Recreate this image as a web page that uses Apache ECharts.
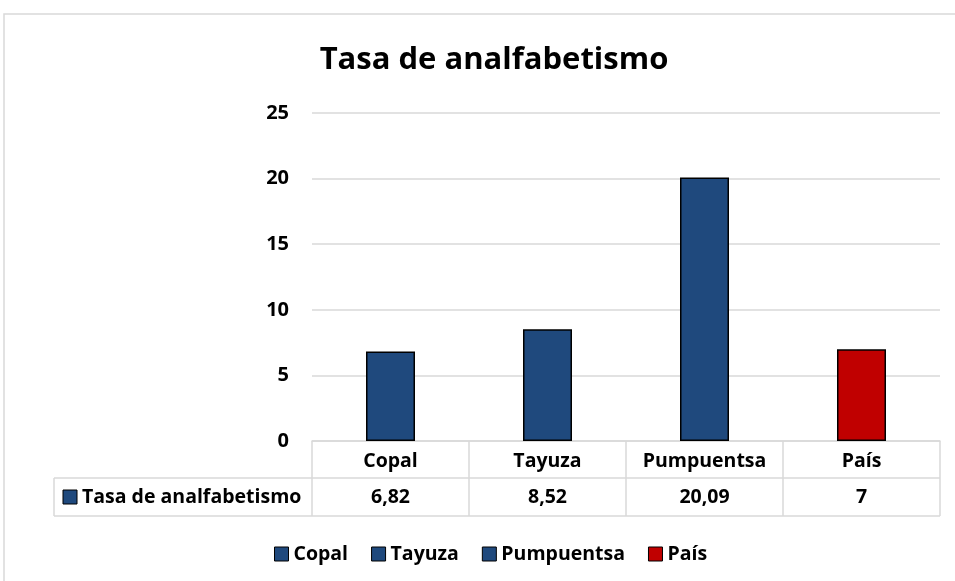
<!DOCTYPE html>
<html>
<head>
<meta charset="utf-8">
<script src="https://cdn.jsdelivr.net/npm/echarts@6/dist/echarts.min.js"></script>
<style>
  html, body { margin: 0; padding: 0; background: #fff; }
  #chart { width: 955px; height: 581px; }
</style>
</head>
<body>
<div id="chart"></div>
<script>
  var titleText = 'Tasa de analfabetismo'
  var categories = ['Copal', 'Tayuza', 'Pumpuentsa', 'País']
  var values = [6.82, 8.52, 20.09, 7]
  var valueLabels = ['6,82', '8,52', '20,09', '7']
  var barColors = ['#1F497D', '#1F497D', '#1F497D', '#C00000']
  var yTicks = [0, 5, 10, 15, 20, 25]

  var font = "'Open Sans', 'Noto Sans', sans-serif"
  var lineColor = '#d9d9d9'
  var fs = 19.5

  // plot box (grid) in pixels
  var gridLeft = 312, gridRight = 15, gridTop = 113, gridBottom = 140
  var W = 955, H = 581

  var chart = echarts.init(document.getElementById('chart'))

  // one series per category so the legend gets one entry each
  var series = categories.map(function (name, i) {
    return {
      name: name,
      type: 'bar',
      stack: 'all',
      barWidth: 49,
      data: values.map(function (v, j) { return j === i ? v : '-' }),
      itemStyle: {
        color: barColors[i],
        borderColor: '#000',
        borderWidth: 1.5
      }
    }
  })

  // table lines + row header
  var tblRight = W - gridRight
  var tblTop = H - gridBottom
  var tblMid = tblTop + 37
  var tblBot = tblTop + 75
  var headLeft = 54

  chart.setOption({
    backgroundColor: '#fff',
    animation: false,
    title: {
      text: titleText,
      left: 489,
      textAlign: 'center',
      top: 40,
      textStyle: { fontFamily: font, fontWeight: 'bold', fontSize: 31, color: '#000' }
    },
    legend: {
      data: categories,
      top: 544,
      left: 274,
      padding: 0,
      icon: 'rect',
      itemWidth: 14,
      itemHeight: 14,
      itemGap: 23,
      textStyle: { fontFamily: font, fontWeight: 'bold', fontSize: fs, color: '#000', padding: [0, 0, 0, 0] },
      itemStyle: { borderColor: '#000', borderWidth: 1 }
    },
    grid: { left: gridLeft, right: gridRight, top: gridTop, bottom: gridBottom },
    xAxis: [{
      type: 'category',
      data: categories,
      axisLine: { lineStyle: { color: lineColor, width: 1.5 } },
      axisTick: { show: true, interval: 0, length: 75, lineStyle: { color: lineColor, width: 1.5 } },
      axisLabel: { interval: 0, margin: 10, fontFamily: font, fontWeight: 'bold', fontSize: fs, color: '#000' }
    }, {
      type: 'category',
      data: valueLabels,
      position: 'bottom',
      axisLine: { show: false },
      axisTick: { show: false },
      axisLabel: { interval: 0, margin: 46, fontFamily: font, fontWeight: 'bold', fontSize: fs, color: '#000' }
    }],
    yAxis: {
      type: 'value',
      min: yTicks[0],
      max: yTicks[yTicks.length - 1],
      interval: 5,
      axisLine: { show: false },
      axisTick: { show: false },
      axisLabel: { margin: 23, fontFamily: font, fontWeight: 'bold', fontSize: 20, color: '#000' },
      splitLine: { lineStyle: { color: lineColor, width: 1.5 } }
    },
    graphic: [
      { type: 'rect', silent: true, shape: { x: 4, y: 14, width: 980, height: 620 }, style: { fill: 'none', stroke: lineColor, lineWidth: 1.5 } },
      { type: 'line', shape: { x1: headLeft, y1: tblMid, x2: tblRight, y2: tblMid }, style: { stroke: lineColor, lineWidth: 1.5 } },
      { type: 'line', shape: { x1: headLeft, y1: tblBot, x2: tblRight, y2: tblBot }, style: { stroke: lineColor, lineWidth: 1.5 } },
      { type: 'line', shape: { x1: headLeft, y1: tblMid, x2: headLeft, y2: tblBot }, style: { stroke: lineColor, lineWidth: 1.5 } },
      { type: 'rect', shape: { x: headLeft + 9, y: (tblMid + tblBot) / 2 - 7, width: 14, height: 14 }, style: { fill: barColors[0], stroke: '#000', lineWidth: 1 } },
      { type: 'text', x: headLeft + 28, y: (tblMid + tblBot) / 2, style: { text: titleText, fontFamily: font, fontWeight: 'bold', fontSize: fs, fill: '#000', verticalAlign: 'middle' } }
    ],
    series: series
  })
</script>
</body>
</html>
